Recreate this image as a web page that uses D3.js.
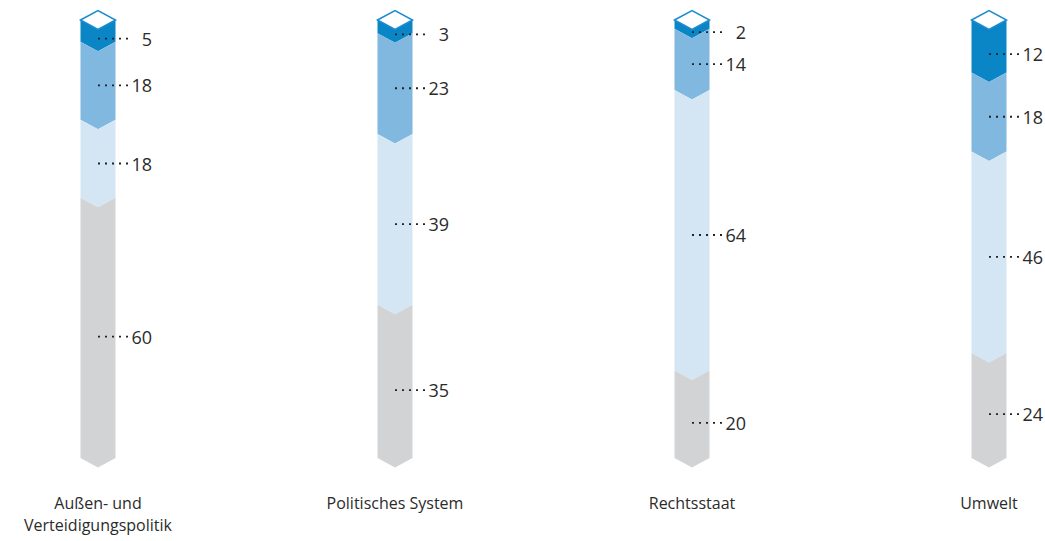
<!DOCTYPE html>
<html>
<head>
<meta charset="utf-8">
<script src="https://cdn.jsdelivr.net/npm/d3@7"></script>
<style>
  html, body { margin: 0; padding: 0; background: #ffffff; }
  svg { display: block; }
  text { font-family: "Open Sans", "Noto Sans", sans-serif; fill: #2b2b2b; }
</style>
</head>
<body>
<svg id="chart" width="1045" height="541"></svg>
<script>
// Policy fields (label lines) and the four stacked shares per field, from top to bottom
const categories = ["Außen- und Verteidigungspolitik", "Politisches System", "Rechtsstaat", "Umwelt"];
const categoryLines = [["Außen- und", "Verteidigungspolitik"], ["Politisches System"], ["Rechtsstaat"], ["Umwelt"]];
const shareTop    = [5, 3, 2, 12];
const shareSecond = [18, 23, 14, 18];
const shareThird  = [18, 39, 64, 46];
const shareBottom = [60, 35, 20, 24];

const seriesKeys = ["top", "second", "third", "bottom"];
const seriesColors = ["#0a86c6", "#80b8df", "#d4e6f3", "#d2d3d5"];

const rows = categories.map((c, i) => ({
  category: c,
  top: shareTop[i], second: shareSecond[i], third: shareThird[i], bottom: shareBottom[i]
}));

const svg = d3.select("#chart");

// Column centres
const x = d3.scalePoint().domain(categories).range([98, 989]);

// Geometry of each column
const barTop = 20, barBottom = 458;
const halfW = 17.5;   // half the column width
const notch = 9.5;    // depth of the chevron / cap

const stack = d3.stack().keys(seriesKeys);
const stacked = stack(rows);

// Each column runs over its own total
const yFor = (row) => {
  const total = seriesKeys.reduce((s, k) => s + row[k], 0);
  return d3.scaleLinear().domain([0, total]).range([barTop, barBottom]);
};

const segPath = (xc, y0, y1) => {
  const l = xc - halfW, r = xc + halfW;
  return `M${l},${y0} L${xc},${y0 + notch} L${r},${y0} L${r},${y1} L${xc},${y1 + notch} L${l},${y1} Z`;
};

const g = svg.append("g");

stacked.forEach((layer, si) => {
  layer.forEach((d, ci) => {
    const row = rows[ci];
    const y = yFor(row);
    const xc = x(row.category);
    const y0 = y(d[0]), y1 = y(d[1]);
    g.append("path")
      .attr("d", segPath(xc, y0, y1))
      .attr("fill", seriesColors[si]);
  });
});

// White cap on top of every column
categories.forEach((c) => {
  const xc = x(c);
  g.append("path")
    .attr("d", `M${xc - halfW},${barTop} L${xc},${barTop - notch} L${xc + halfW},${barTop} L${xc},${barTop + notch} Z`)
    .attr("fill", "#ffffff")
    .attr("stroke", "#1a8bd0")
    .attr("stroke-width", 1.5)
    .attr("stroke-linejoin", "miter");
});

// Value labels with dotted leaders
stacked.forEach((layer, si) => {
  layer.forEach((d, ci) => {
    const row = rows[ci];
    const y = yFor(row);
    const xc = x(row.category);
    const y0 = y(d[0]), y1 = y(d[1]);
    let ly = (y0 + y1) / 2 + notch / 2;
    if (si === 0) ly += 3;                       // sits below the cap
    if (si === seriesKeys.length - 1) ly += 4;   // pointed foot
    g.append("line")
      .attr("x1", xc).attr("x2", xc + 30)
      .attr("y1", ly).attr("y2", ly)
      .attr("stroke", "#222")
      .attr("stroke-width", 1.8)
      .attr("stroke-dasharray", "2,5");
    g.append("text")
      .attr("x", xc + 54)
      .attr("y", ly)
      .attr("text-anchor", "end")
      .attr("dominant-baseline", "central")
      .attr("font-size", 18)
      .text(row[seriesKeys[si]]);
  });
});

// Category labels
categories.forEach((c, i) => {
  const t = g.append("text")
    .attr("x", x(c))
    .attr("y", 509)
    .attr("text-anchor", "middle")
    .attr("font-size", 16);
  categoryLines[i].forEach((line, li) => {
    t.append("tspan").attr("x", x(c)).attr("dy", li === 0 ? 0 : 22).text(line);
  });
});
</script>
</body>
</html>
